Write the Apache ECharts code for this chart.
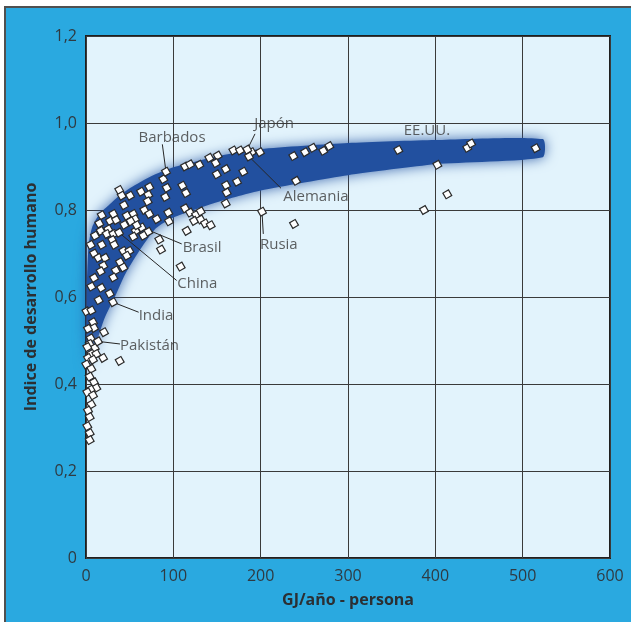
<!DOCTYPE html>
<html>
<head>
<meta charset="utf-8">
<script src="https://cdn.jsdelivr.net/npm/echarts@6/dist/echarts.min.js"></script>
<style>
  html, body { margin: 0; padding: 0; background: #ffffff; }
  body { position: relative; width: 631px; height: 622px; overflow: hidden; }
  #frame { position: absolute; left: 4px; top: 6px; width: 660px; height: 660px;
           background: #2aa9e0; border-left: 2px solid #505050; border-top: 2px solid #505050; }
  #chart { position: absolute; left: 0; top: 0; width: 631px; height: 622px; }
</style>
</head>
<body>
<div id="frame"></div>
<div id="chart"></div>
<script>
// Energy use per person (GJ/year) vs. human development index, one point per country.

// Countries with low energy use (near the vertical axis)
const pointsLow = [
  [6.1,0.624],[17.5,0.621],[27.1,0.608],[14.5,0.593],[0.5,0.567],[6.1,0.569],
  [8.0,0.542],[9.2,0.529],[2.3,0.527],[20.6,0.519],[5.4,0.505],[4.2,0.492],
  [10.0,0.483],[1.5,0.485],[19.5,0.460],[38.6,0.453],[6.1,0.469],[11.8,0.469],
  [2.3,0.460],[8.0,0.456],[0.3,0.445],[6.1,0.435],[4.2,0.417],[9.2,0.404],
  [11.8,0.391],[5.4,0.387],[1.5,0.381],[8.0,0.374],[6.1,0.353],[2.3,0.339],
  [4.2,0.324],[1.5,0.303],[4.2,0.287],[4.2,0.271]
];

// Countries between roughly 5 and 110 GJ/year
const pointsMid = [
  [38.1,0.846],[40.9,0.833],[50.4,0.833],[43.5,0.811],[63.0,0.842],[72.5,0.853],
  [71.3,0.835],[70.6,0.820],[92.4,0.851],[90.8,0.830],[88.5,0.871],[94.2,0.794],
  [95.0,0.774],[66.8,0.800],[72.5,0.791],[81.0,0.779],[18.0,0.788],[31.3,0.791],
  [15.2,0.769],[27.5,0.775],[34.4,0.777],[46.6,0.787],[54.2,0.791],[56.1,0.779],
  [51.2,0.774],[43.9,0.766],[63.8,0.760],[56.9,0.752],[71.3,0.750],[54.2,0.739],
  [25.5,0.756],[16.8,0.752],[23.7,0.745],[31.3,0.745],[10.3,0.741],[30.1,0.731],
  [32.4,0.720],[42.7,0.706],[49.6,0.706],[46.6,0.695],[5.4,0.720],[18.0,0.720],
  [9.2,0.700],[14.1,0.690],[21.8,0.690],[38.9,0.680],[42.7,0.668],[34.0,0.661],
  [19.8,0.672],[16.8,0.659],[9.2,0.644],[31.3,0.645],[83.9,0.732],[85.9,0.709],
  [108.4,0.670],[65.6,0.741]
];

// Countries between roughly 110 and 210 GJ/year
const pointsCenter = [
  [168.7,0.937],[176.3,0.937],[189.7,0.933],[199.2,0.933],[141.2,0.920],[150.8,0.925],
  [148.5,0.908],[113.4,0.900],[119.1,0.905],[129.7,0.904],[160.0,0.894],[180.1,0.888],
  [149.7,0.882],[172.9,0.865],[160.3,0.857],[110.3,0.856],[114.5,0.839],[161.1,0.840],
  [160.0,0.815],[113.4,0.804],[119.1,0.794],[126.0,0.789],[131.3,0.797],[123.7,0.775],
  [131.3,0.778],[136.3,0.769],[142.8,0.765],[115.3,0.752]
];

// High-consumption countries
const pointsHigh = [
  [237.4,0.924],[250.8,0.933],[259.6,0.943],[271.7,0.936],[278.6,0.947],[357.6,0.938],
  [436.6,0.943],[440.9,0.953],[514.9,0.942],[402.3,0.904],[413.7,0.836],[387.0,0.800],
  [240.5,0.867],[238.2,0.768]
];

// Named countries
const namedCountries = ['Barbados','Japón','Alemania','Rusia','Brasil','China','India','Pakistán'];
const namedValues = [
  [91.6,0.888],[184.7,0.939],[186.6,0.923],[201.5,0.796],
  [58.0,0.765],[37.8,0.748],[30.9,0.588],[13.7,0.498]
];

// Trend band: upper edge (left to right) and lower edge (right to left)
const bandUpper = [
  [1,0.41],[1,0.62],[3,0.72],[7,0.76],[15,0.79],[25,0.809],[37,0.831],[51,0.851],
  [74,0.877],[100,0.898],[150,0.923],[200,0.94],[300,0.954],[400,0.961],[523,0.963]
];
const bandLower = [
  [523,0.921],[400,0.905],[300,0.88],[200,0.845],[150,0.818],[100,0.783],[80,0.758],
  [60,0.703],[45,0.653],[33,0.60],[21,0.55],[13,0.50],[7,0.45],[3,0.42]
];

// Callout layout: where each leader line ends and where its text sits (axis units)
const callouts = [
  { name: 'Barbados', lineEnd: [87.4,0.951], textAt: [98.5,0.966], align: 'center' },
  { name: 'Japón',    lineEnd: [193.5,0.975], textAt: [215.3,0.998], align: 'center' },
  { name: 'Alemania', lineEnd: [223.3,0.850], textAt: [225.9,0.831], align: 'left' },
  { name: 'Rusia',    lineEnd: [203.0,0.745], textAt: [199.2,0.720], align: 'left' },
  { name: 'Brasil',   lineEnd: [109.6,0.722], textAt: [110.7,0.714], align: 'left' },
  { name: 'China',    lineEnd: [103.8,0.638], textAt: [104.5,0.630], align: 'left' },
  { name: 'India',    lineEnd: [60.3,0.565],  textAt: [60.3,0.557],  align: 'left' },
  { name: 'Pakistán', lineEnd: [38.9,0.492],  textAt: [38.9,0.487],  align: 'left' }
];
const extraLabels = [ { name: 'EE.UU.', textAt: [390.4,0.982], align: 'center' } ];

const xAxisName = 'GJ/año - persona';
const yAxisName = 'Indice de desarrollo humano';

const FONT = '"Open Sans", "Noto Sans", sans-serif';
const BAND = '#22509f';

const chart = echarts.init(document.getElementById('chart'), null, { renderer: 'canvas' });

const allPoints = pointsLow.concat(pointsMid, pointsCenter, pointsHigh, namedValues);

const leaderData = callouts.map(c => {
  const idx = namedCountries.indexOf(c.name);
  return { coords: [namedValues[idx], c.lineEnd] };
});

const labelData = callouts.concat(extraLabels).map(c => ({
  name: c.name,
  value: c.textAt,
  label: { align: c.align }
}));

chart.setOption({
  backgroundColor: 'transparent',
  animation: false,
  grid: {
    left: 86, right: 21, top: 36, bottom: 64,
    show: true,
    backgroundColor: '#e2f3fc',
    borderColor: '#1f1f1f',
    borderWidth: 2
  },
  xAxis: {
    type: 'value', min: 0, max: 600, interval: 100,
    name: xAxisName, nameLocation: 'middle', nameGap: 34,
    nameTextStyle: { fontFamily: FONT, fontWeight: 'bold', fontSize: 16, color: '#2b2f33' },
    axisLine: { show: false },
    axisTick: { show: false },
    axisLabel: { margin: 10, fontFamily: FONT, fontSize: 16, color: '#2f3a42' },
    splitLine: { lineStyle: { color: '#3a3a3a', width: 1 } }
  },
  yAxis: {
    type: 'value', min: 0, max: 1.2, interval: 0.2,
    name: yAxisName, nameLocation: 'middle', nameGap: 47,
    nameTextStyle: { fontFamily: FONT, fontWeight: 'bold', fontSize: 16, color: '#2b2f33' },
    axisLine: { show: false },
    axisTick: { show: false },
    axisLabel: {
      margin: 9, fontFamily: FONT, fontSize: 16, color: '#2f3a42',
      formatter: v => (v === 0 ? '0' : v.toFixed(1).replace('.', ','))
    },
    splitLine: { lineStyle: { color: '#3a3a3a', width: 1 } }
  },
  series: [
    {
      type: 'custom',
      silent: true,
      z: 1,
      data: [[0, 0]],
      renderItem: function (params, api) {
        const pts = bandUpper.concat(bandLower).map(p => api.coord(p));
        return {
          type: 'polygon',
          shape: { points: pts, smooth: 0.2 },
          style: {
            fill: new echarts.graphic.LinearGradient(0, 0, 0, 1, [
              { offset: 0, color: BAND },
              { offset: 0.78, color: BAND },
              { offset: 1, color: 'rgba(34,80,159,0)' }
            ]),
            shadowBlur: 13,
            shadowColor: 'rgba(34,80,159,0.85)'
          }
        };
      }
    },
    {
      type: 'lines',
      coordinateSystem: 'cartesian2d',
      silent: true,
      z: 3,
      lineStyle: { color: '#262626', width: 1, opacity: 1 },
      data: leaderData
    },
    {
      type: 'scatter',
      silent: true,
      z: 4,
      symbol: 'rect',
      symbolSize: 6.5,
      symbolRotate: 30,
      itemStyle: { color: '#ffffff', borderColor: '#2a2a2a', borderWidth: 1.2, opacity: 1 },
      data: allPoints
    },
    {
      type: 'scatter',
      silent: true,
      z: 5,
      symbolSize: 1,
      itemStyle: { color: 'rgba(0,0,0,0)' },
      label: {
        show: true,
        position: 'inside',
        formatter: '{b}',
        fontFamily: FONT,
        fontSize: 15,
        color: '#383838',
        verticalAlign: 'middle'
      },
      data: labelData
    }
  ]
});
</script>
</body>
</html>
